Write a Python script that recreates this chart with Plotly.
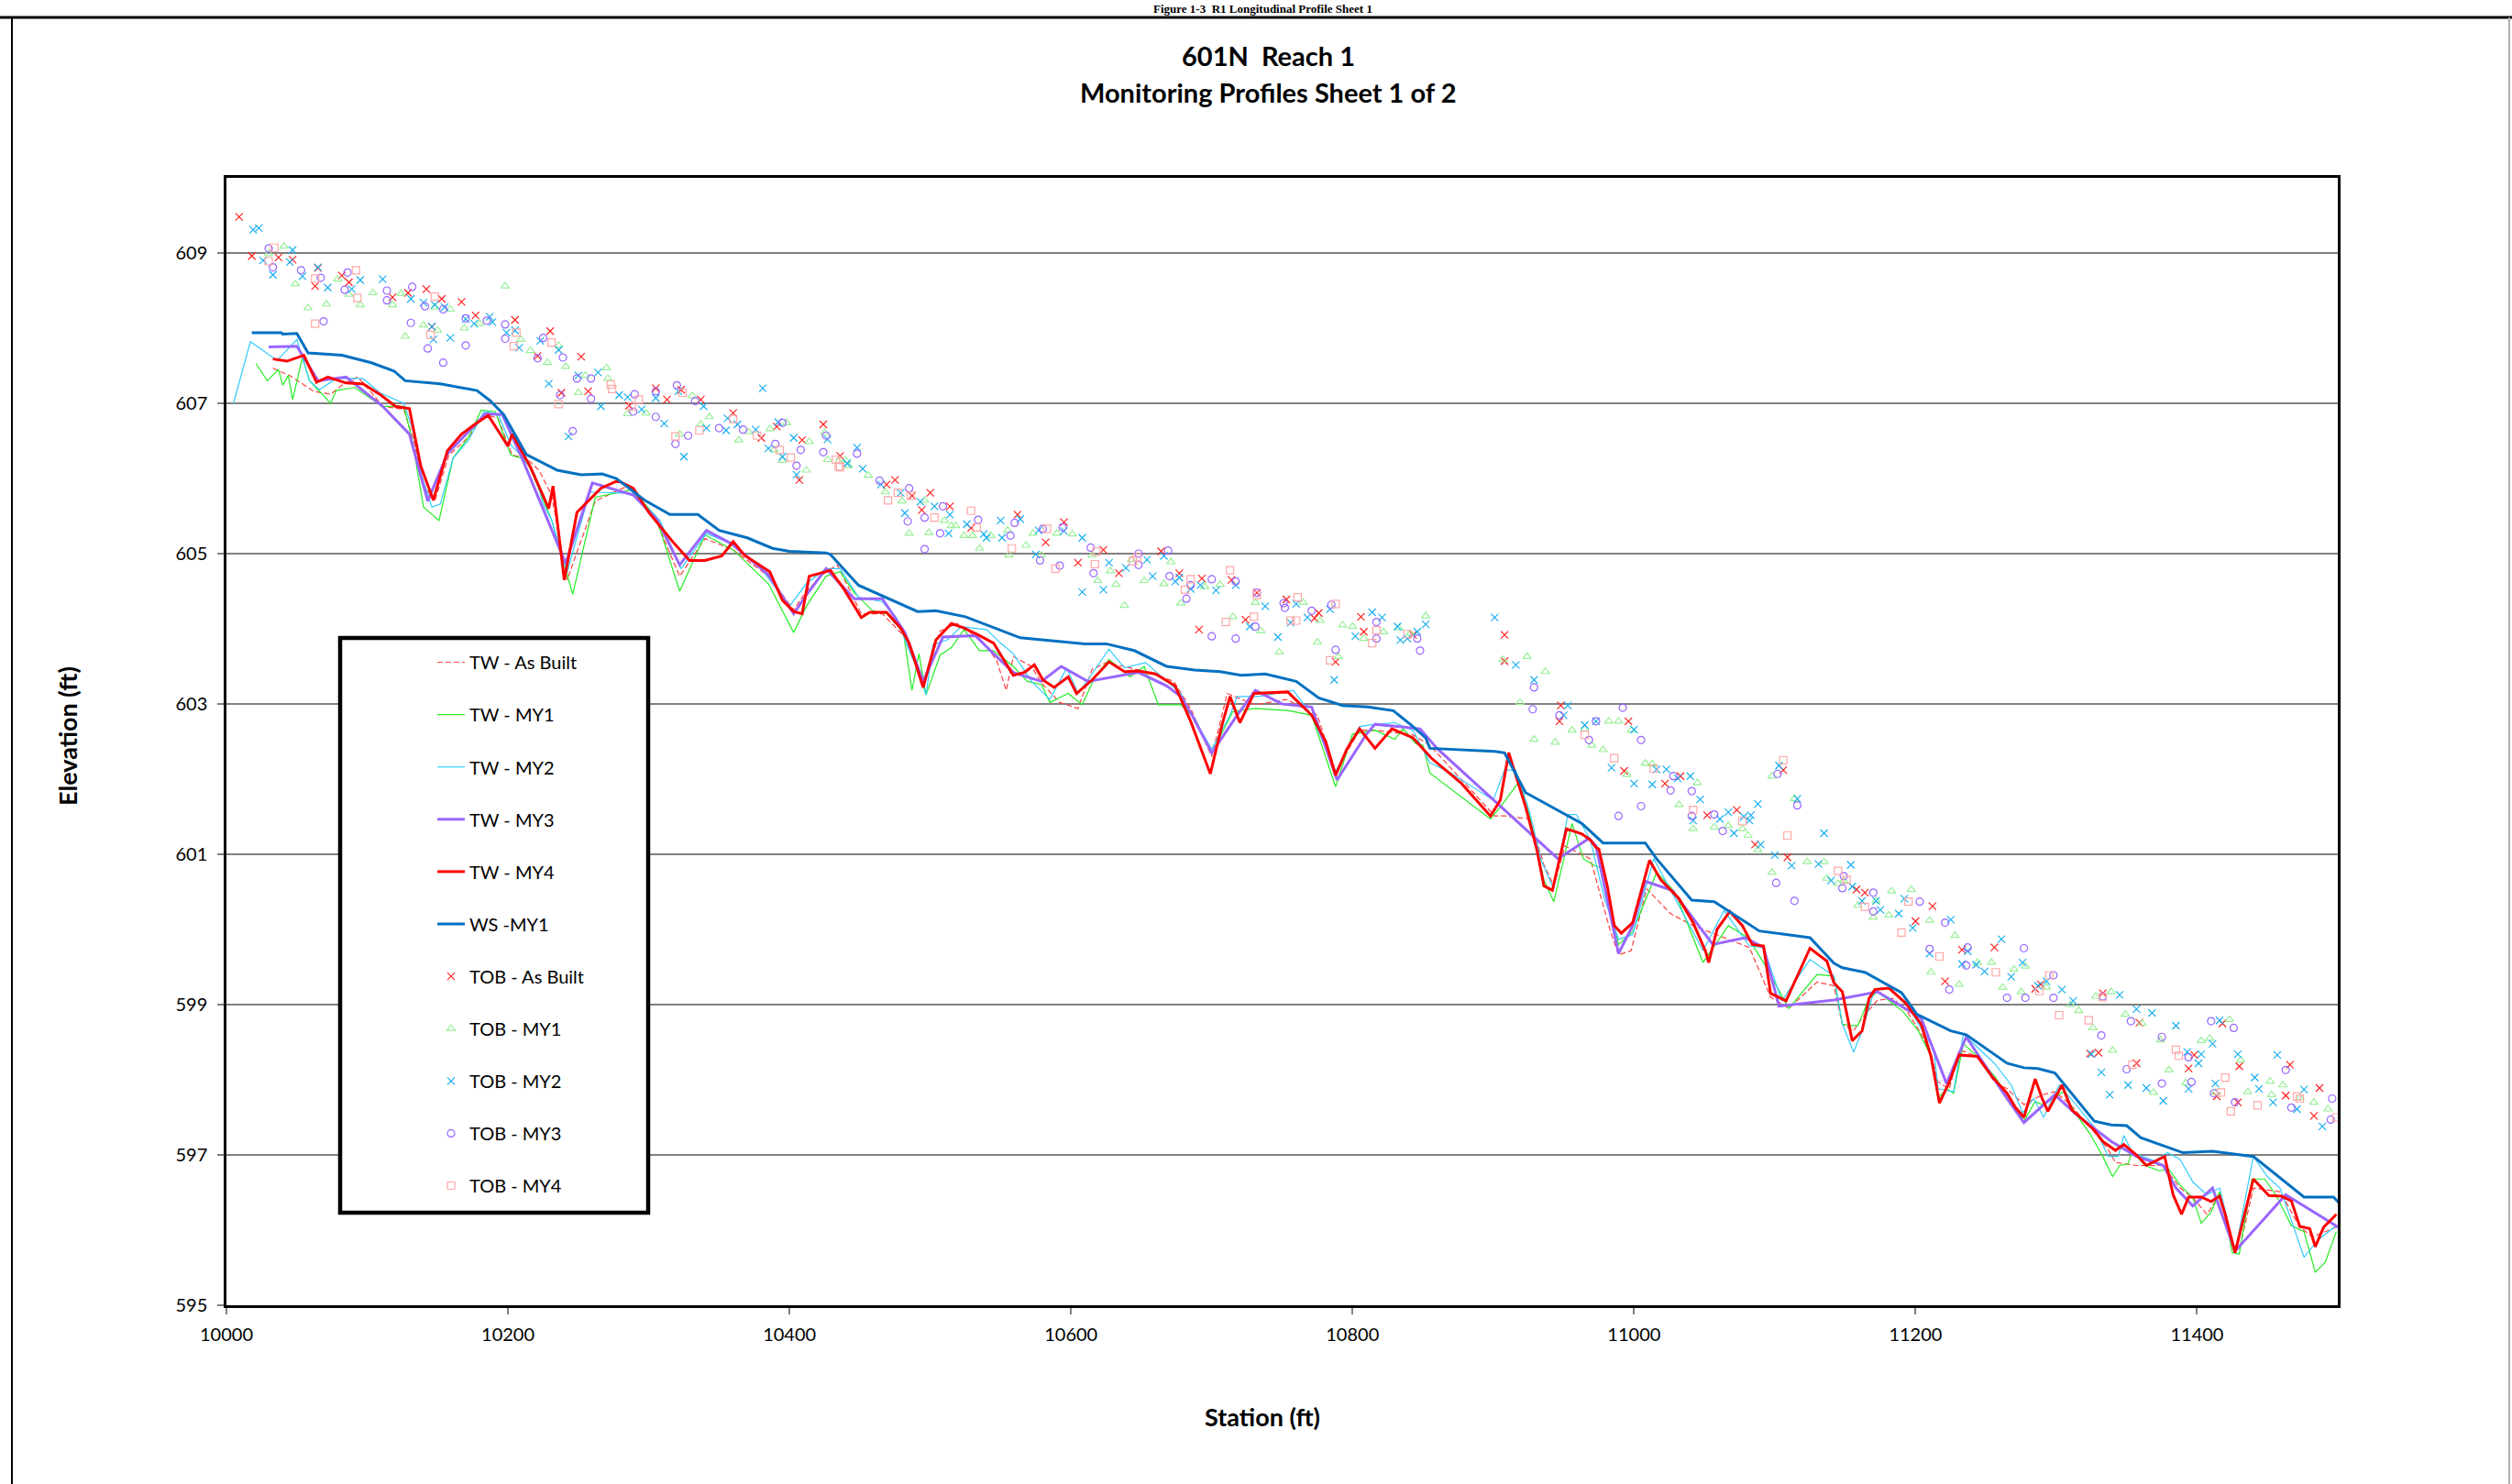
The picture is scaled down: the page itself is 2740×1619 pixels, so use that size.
import plotly.graph_objects as go

# ---------------- data ----------------
x_ticks = [10000, 10200, 10400, 10600, 10800, 11000, 11200, 11400]
y_ticks = [595, 597, 599, 601, 603, 605, 607, 609]

tw_ab_sta = [10033, 10037, 10045, 10056, 10062, 10074, 10082, 10093, 10097, 10111, 10126, 10133, 10140, 10148, 10158, 10172, 10183, 10193, 10203, 10213, 10222, 10231, 10242, 10262, 10285, 10305, 10322, 10340, 10360, 10385, 10403, 10412, 10426, 10434, 10446, 10451, 10466, 10482, 10495, 10507, 10519, 10535, 10547, 10554, 10559, 10572, 10579, 10592, 10605, 10615, 10625, 10642, 10658, 10673, 10685, 10700, 10711, 10716, 10731, 10753, 10775, 10788, 10805, 10816, 10843, 10855, 10901, 10908, 10926, 10936, 10943, 10951, 10969, 10983, 10989, 10998, 11009, 11026, 11042, 11064, 11082, 11097, 11110, 11130, 11142, 11148, 11156, 11162, 11173, 11184, 11194, 11204, 11211, 11216, 11224, 11231, 11244, 11256, 11265, 11277, 11290, 11299, 11310, 11324, 11337, 11342, 11357, 11376, 11388, 11397, 11407, 11416, 11425, 11430, 11440, 11459, 11473, 11482, 11499]
tw_ab_elev = [607.47, 607.43, 607.37, 607.24, 607.16, 607.12, 607.24, 607.35, 607.28, 606.96, 606.92, 606.51, 605.90, 605.70, 606.31, 606.55, 606.86, 606.80, 606.31, 606.27, 606.11, 605.78, 604.65, 605.70, 605.90, 605.45, 604.70, 605.20, 605.05, 604.70, 604.25, 604.50, 604.76, 604.85, 604.40, 604.20, 604.20, 603.89, 603.26, 603.97, 604.07, 603.87, 603.59, 603.18, 603.63, 603.50, 603.28, 603.02, 602.94, 603.46, 603.55, 603.48, 603.40, 603.30, 602.94, 602.30, 603.14, 603.10, 602.99, 603.06, 602.85, 602.10, 602.65, 602.65, 602.59, 602.45, 601.51, 601.51, 601.47, 600.86, 600.58, 601.11, 600.94, 599.99, 599.66, 599.72, 600.54, 600.21, 600.05, 599.89, 599.76, 599.10, 598.95, 599.30, 599.25, 598.74, 598.65, 598.82, 599.06, 599.08, 598.91, 598.61, 598.35, 597.97, 597.88, 598.40, 598.31, 597.97, 597.88, 597.67, 597.80, 597.84, 597.67, 597.37, 597.07, 596.90, 596.86, 596.86, 596.56, 596.43, 596.21, 596.47, 595.83, 595.74, 596.56, 596.51, 596.04, 595.91, 596.04]

tw_my1_sta = [10021, 10029, 10037, 10040, 10044, 10047, 10054, 10059, 10074, 10078, 10091, 10111, 10126, 10132, 10140, 10151, 10161, 10172, 10181, 10191, 10202, 10213, 10222, 10231, 10246, 10262, 10288, 10305, 10322, 10340, 10360, 10385, 10403, 10412, 10426, 10436, 10446, 10459, 10469, 10481, 10487, 10492, 10497, 10507, 10515, 10524, 10535, 10545, 10559, 10569, 10579, 10585, 10598, 10608, 10617, 10627, 10642, 10652, 10662, 10678, 10688, 10700, 10715, 10731, 10755, 10771, 10788, 10800, 10816, 10830, 10836, 10845, 10850, 10855, 10898, 10905, 10919, 10926, 10936, 10943, 10956, 10964, 10971, 10976, 10989, 10999, 11006, 11016, 11029, 11049, 11067, 11081, 11092, 11110, 11130, 11142, 11148, 11153, 11159, 11167, 11173, 11191, 11202, 11211, 11216, 11222, 11227, 11234, 11244, 11256, 11271, 11277, 11285, 11290, 11296, 11305, 11314, 11324, 11333, 11340, 11345, 11351, 11354, 11363, 11373, 11380, 11388, 11397, 11403, 11410, 11416, 11420, 11425, 11430, 11439, 11448, 11456, 11467, 11476, 11484, 11491, 11499]
tw_my1_elev = [607.53, 607.30, 607.45, 607.24, 607.37, 607.05, 607.61, 607.30, 607.00, 607.17, 607.21, 606.96, 606.96, 606.51, 605.62, 605.44, 606.27, 606.55, 606.91, 606.89, 606.31, 606.25, 605.86, 605.45, 604.46, 605.75, 605.85, 605.50, 604.50, 605.25, 605.05, 604.60, 603.95, 604.30, 604.70, 604.76, 604.48, 604.24, 604.20, 603.95, 603.18, 603.67, 603.12, 603.65, 603.75, 603.99, 603.71, 603.71, 603.50, 603.30, 603.26, 603.02, 603.14, 602.99, 603.36, 603.59, 603.36, 603.50, 602.99, 602.99, 602.81, 602.35, 602.90, 602.94, 602.91, 602.85, 601.90, 602.60, 602.65, 602.53, 602.67, 602.47, 602.45, 602.08, 601.47, 601.63, 601.98, 601.49, 600.66, 600.37, 601.41, 600.94, 600.86, 600.82, 599.80, 599.97, 600.29, 600.76, 600.50, 599.56, 600.05, 599.89, 599.56, 598.95, 599.40, 599.38, 598.74, 598.72, 598.72, 599.08, 599.17, 598.91, 598.65, 598.31, 597.75, 597.88, 597.82, 598.48, 598.31, 598.05, 597.63, 597.45, 597.71, 597.67, 597.73, 597.84, 597.54, 597.28, 596.98, 596.71, 596.86, 596.88, 597.05, 596.86, 596.79, 596.81, 596.60, 596.43, 596.09, 596.24, 596.51, 596.21, 595.70, 595.68, 596.68, 596.68, 596.47, 596.06, 595.98, 595.44, 595.57, 595.98]

tw_my2_sta = [10005, 10017, 10036, 10050, 10059, 10066, 10078, 10097, 10109, 10126, 10132, 10139, 10146, 10152, 10161, 10172, 10183, 10193, 10202, 10209, 10219, 10225, 10231, 10242, 10258, 10289, 10308, 10323, 10341, 10359, 10380, 10400, 10412, 10426, 10436, 10449, 10466, 10476, 10485, 10491, 10497, 10502, 10512, 10522, 10540, 10550, 10559, 10572, 10585, 10597, 10605, 10612, 10627, 10638, 10653, 10668, 10678, 10686, 10700, 10713, 10718, 10733, 10758, 10771, 10788, 10805, 10816, 10830, 10843, 10855, 10870, 10900, 10908, 10916, 10926, 10934, 10943, 10953, 10959, 10969, 10979, 10989, 10999, 11014, 11022, 11049, 11064, 11082, 11092, 11105, 11125, 11142, 11148, 11156, 11162, 11171, 11182, 11194, 11213, 11216, 11227, 11234, 11256, 11268, 11276, 11284, 11291, 11302, 11314, 11327, 11337, 11344, 11348, 11354, 11370, 11379, 11388, 11397, 11407, 11416, 11420, 11427, 11440, 11450, 11459, 11476, 11486, 11499]
tw_my2_elev = [607.00, 607.82, 607.57, 607.85, 607.30, 607.18, 607.33, 607.33, 607.14, 607.00, 606.67, 606.02, 605.62, 605.66, 606.27, 606.51, 606.89, 606.86, 606.45, 606.31, 606.06, 605.66, 605.45, 604.75, 605.82, 605.80, 605.44, 604.80, 605.27, 605.13, 604.80, 604.30, 604.60, 604.80, 604.80, 604.42, 604.36, 604.15, 603.71, 603.46, 603.12, 603.79, 603.85, 604.03, 603.99, 603.81, 603.67, 603.30, 603.06, 603.48, 603.14, 603.32, 603.73, 603.48, 603.55, 603.30, 603.14, 602.85, 602.40, 602.85, 603.10, 603.10, 603.18, 602.85, 602.10, 602.70, 602.73, 602.75, 602.65, 602.22, 602.08, 601.72, 602.12, 602.12, 601.55, 600.92, 600.54, 601.53, 601.53, 601.19, 600.41, 599.87, 599.93, 600.94, 600.66, 599.72, 600.25, 599.78, 599.76, 599.05, 599.60, 599.38, 598.74, 598.37, 598.65, 599.21, 599.23, 599.00, 598.40, 597.88, 597.84, 598.61, 598.22, 597.93, 597.56, 597.75, 597.50, 597.93, 597.67, 597.37, 596.98, 596.98, 597.26, 597.03, 596.92, 597.03, 596.94, 596.64, 596.47, 596.56, 596.26, 595.70, 596.98, 596.71, 596.56, 595.64, 595.87, 596.06]

tw_my3_sta = [10030, 10050, 10065, 10085, 10111, 10130, 10143, 10157, 10184, 10196, 10210, 10241, 10260, 10289, 10306, 10322, 10341, 10359, 10385, 10403, 10412, 10426, 10446, 10466, 10482, 10495, 10509, 10532, 10545, 10559, 10579, 10593, 10612, 10648, 10668, 10678, 10686, 10700, 10718, 10731, 10750, 10771, 10789, 10810, 10816, 10848, 10860, 10946, 10968, 10973, 10989, 10999, 11008, 11027, 11056, 11079, 11092, 11103, 11142, 11173, 11204, 11211, 11222, 11236, 11265, 11277, 11299, 11314, 11339, 11357, 11376, 11385, 11397, 11411, 11427, 11463, 11502]
tw_my3_elev = [607.75, 607.76, 607.30, 607.35, 606.96, 606.59, 605.70, 606.33, 606.86, 606.85, 606.27, 604.87, 605.94, 605.78, 605.45, 604.85, 605.31, 605.13, 604.72, 604.20, 604.45, 604.80, 604.40, 604.40, 603.95, 603.30, 603.89, 603.91, 603.67, 603.42, 603.30, 603.50, 603.30, 603.42, 603.24, 603.10, 602.85, 602.35, 602.85, 603.18, 603.00, 602.96, 601.99, 602.60, 602.73, 602.67, 602.41, 600.94, 601.21, 601.11, 599.68, 600.05, 600.64, 600.52, 599.80, 599.89, 599.76, 598.98, 599.06, 599.17, 598.82, 598.48, 597.95, 598.57, 597.75, 597.43, 597.80, 597.54, 597.18, 596.98, 596.86, 596.56, 596.32, 596.56, 595.72, 596.47, 596.02]

tw_my4_sta = [10033, 10043, 10055, 10064, 10072, 10085, 10097, 10109, 10120, 10130, 10138, 10147, 10157, 10167, 10175, 10186, 10200, 10203, 10216, 10229, 10232, 10240, 10249, 10266, 10278, 10289, 10300, 10317, 10329, 10340, 10352, 10360, 10368, 10386, 10395, 10403, 10409, 10414, 10426, 10429, 10439, 10451, 10457, 10469, 10479, 10485, 10495, 10504, 10515, 10524, 10535, 10545, 10559, 10567, 10574, 10580, 10588, 10598, 10604, 10615, 10627, 10638, 10648, 10660, 10674, 10685, 10699, 10707, 10713, 10720, 10730, 10754, 10771, 10781, 10788, 10796, 10805, 10816, 10828, 10843, 10856, 10877, 10898, 10905, 10911, 10923, 10931, 10936, 10942, 10952, 10963, 10969, 10973, 10975, 10981, 10986, 10991, 10999, 11011, 11019, 11032, 11042, 11051, 11053, 11059, 11068, 11077, 11084, 11092, 11097, 11108, 11116, 11125, 11137, 11142, 11148, 11155, 11162, 11167, 11171, 11181, 11193, 11204, 11211, 11217, 11224, 11231, 11244, 11254, 11265, 11271, 11277, 11285, 11290, 11294, 11304, 11311, 11317, 11327, 11333, 11342, 11348, 11357, 11364, 11371, 11377, 11383, 11389, 11394, 11403, 11410, 11416, 11420, 11427, 11440, 11451, 11460, 11467, 11473, 11480, 11484, 11490, 11499]
tw_my4_elev = [607.59, 607.56, 607.64, 607.28, 607.35, 607.27, 607.26, 607.12, 606.96, 606.93, 606.17, 605.71, 606.37, 606.59, 606.70, 606.84, 606.43, 606.59, 606.15, 605.60, 605.90, 604.65, 605.55, 605.87, 605.97, 605.87, 605.55, 605.16, 604.91, 604.91, 604.97, 605.16, 604.98, 604.76, 604.38, 604.23, 604.20, 604.70, 604.76, 604.78, 604.52, 604.15, 604.22, 604.22, 604.01, 603.81, 603.22, 603.85, 604.07, 604.01, 603.91, 603.81, 603.38, 603.42, 603.52, 603.32, 603.22, 603.36, 603.14, 603.32, 603.56, 603.43, 603.44, 603.40, 603.24, 602.77, 602.07, 602.70, 603.10, 602.75, 603.14, 603.16, 602.85, 602.50, 602.05, 602.40, 602.67, 602.41, 602.67, 602.55, 602.28, 601.95, 601.51, 601.72, 602.35, 601.63, 601.06, 600.58, 600.52, 601.34, 601.27, 601.19, 601.09, 601.07, 600.58, 600.05, 599.95, 600.09, 600.92, 600.66, 600.41, 600.09, 599.70, 599.56, 600.00, 600.24, 600.05, 599.80, 599.78, 599.15, 599.05, 599.37, 599.75, 599.58, 599.29, 599.17, 598.52, 598.65, 599.08, 599.20, 599.22, 599.02, 598.74, 598.31, 597.69, 597.97, 598.33, 598.31, 598.05, 597.82, 597.63, 597.50, 598.01, 597.75, 597.58, 597.93, 597.60, 597.50, 597.33, 597.18, 597.06, 597.14, 597.00, 596.86, 596.92, 596.98, 596.47, 596.21, 596.44, 596.44, 596.38, 596.45, 596.21, 595.70, 596.68, 596.46, 596.45, 596.39, 596.05, 596.02, 595.78, 596.04, 596.21]

ws_my1_sta = [10018, 10039, 10040, 10050, 10058, 10082, 10103, 10119, 10127, 10152, 10178, 10187, 10197, 10213, 10235, 10252, 10267, 10277, 10298, 10315, 10335, 10350, 10370, 10388, 10400, 10426, 10429, 10449, 10491, 10504, 10525, 10564, 10610, 10625, 10645, 10668, 10688, 10706, 10721, 10738, 10760, 10776, 10793, 10811, 10829, 10841, 10852, 10855, 10901, 10908, 10923, 10963, 10978, 11008, 11016, 11041, 11057, 11089, 11125, 11142, 11148, 11164, 11190, 11201, 11225, 11236, 11265, 11277, 11287, 11299, 11327, 11339, 11350, 11360, 11390, 11411, 11440, 11476, 11497, 11502]
ws_my1_elev = [607.94, 607.94, 607.92, 607.93, 607.67, 607.64, 607.54, 607.43, 607.30, 607.26, 607.17, 607.04, 606.85, 606.32, 606.11, 606.05, 606.06, 606.00, 605.70, 605.52, 605.52, 605.31, 605.21, 605.07, 605.03, 605.01, 604.99, 604.58, 604.23, 604.24, 604.16, 603.88, 603.80, 603.80, 603.71, 603.50, 603.45, 603.43, 603.38, 603.40, 603.30, 603.08, 602.98, 602.96, 602.91, 602.73, 602.55, 602.41, 602.37, 602.35, 601.82, 601.41, 601.15, 601.15, 600.94, 600.39, 600.37, 599.98, 599.89, 599.55, 599.49, 599.43, 599.16, 598.87, 598.65, 598.60, 598.22, 598.16, 598.15, 598.09, 597.45, 597.40, 597.39, 597.23, 597.03, 597.05, 596.98, 596.44, 596.44, 596.34]

tob_ab_sta = [10009, 10018, 10037, 10047, 10065, 10063, 10082, 10087, 10118, 10129, 10142, 10153, 10167, 10177, 10205, 10230, 10252, 10238, 10257, 10305, 10313, 10323, 10337, 10360, 10380, 10391, 10409, 10407, 10424, 10436, 10286, 10221, 10146, 10469, 10475, 10487, 10500, 10494, 10514, 10529, 10562, 10582, 10595, 10605, 10623, 10634, 10664, 10677, 10691, 10693, 10714, 10724, 10732, 10753, 10773, 10776, 10788, 10806, 10808, 10843, 10908, 10908, 10948, 10996, 10947, 10993, 11022, 11033, 11052, 11073, 11086, 11109, 11106, 11158, 11164, 11200, 11212, 11221, 11233, 11256, 11285, 11289, 11333, 11330, 11324, 11359, 11357, 11394, 11398, 11418, 11414, 11429, 11430, 11463, 11466, 11483, 11487]
tob_ab_elev = [609.48, 608.96, 608.94, 608.91, 608.80, 608.56, 608.70, 608.61, 608.41, 608.47, 608.52, 608.39, 608.35, 608.17, 608.11, 607.96, 607.62, 607.14, 607.16, 607.20, 607.05, 607.18, 607.05, 606.87, 606.54, 606.69, 606.51, 605.98, 606.72, 606.30, 606.97, 607.63, 608.02, 605.92, 605.98, 605.77, 605.81, 605.58, 605.63, 605.34, 605.52, 605.15, 605.42, 604.88, 605.05, 604.74, 605.03, 604.74, 603.99, 604.67, 604.65, 604.12, 604.48, 604.39, 604.14, 604.21, 603.56, 604.16, 603.96, 603.92, 603.92, 603.57, 602.98, 602.77, 602.77, 602.11, 601.94, 602.04, 601.52, 601.59, 601.13, 600.96, 602.12, 600.53, 600.49, 600.11, 600.31, 599.31, 599.73, 599.76, 599.21, 599.27, 599.15, 598.36, 598.35, 598.76, 598.22, 598.15, 598.33, 598.75, 597.78, 597.70, 598.18, 597.79, 598.20, 597.52, 597.89]

tob_my1_sta = [10030, 10041, 10049, 10058, 10071, 10079, 10087, 10095, 10104, 10118, 10124, 10127, 10140, 10150, 10148, 10159, 10169, 10180, 10198, 10209, 10216, 10228, 10236, 10241, 10250, 10255, 10270, 10271, 10285, 10298, 10322, 10331, 10337, 10343, 10364, 10371, 10386, 10389, 10395, 10398, 10412, 10414, 10425, 10435, 10440, 10427, 10442, 10456, 10468, 10480, 10485, 10496, 10499, 10510, 10515, 10518, 10524, 10530, 10535, 10543, 10555, 10556, 10568, 10573, 10579, 10590, 10601, 10615, 10619, 10628, 10632, 10638, 10643, 10652, 10666, 10671, 10678, 10695, 10706, 10715, 10731, 10735, 10748, 10765, 10775, 10777, 10790, 10793, 10800, 10808, 10822, 10833, 10841, 10852, 10907, 10924, 10937, 10919, 10929, 10944, 10956, 10965, 10970, 10978, 10982, 10989, 10998, 11008, 11013, 10995, 11032, 11042, 11045, 11057, 11067, 11077, 11081, 11088, 11098, 11098, 11114, 11123, 11135, 11137, 11145, 11149, 11159, 11170, 11172, 11181, 11183, 11197, 11210, 11211, 11228, 11231, 11244, 11254, 11262, 11270, 11275, 11278, 11293, 11310, 11316, 11326, 11328, 11340, 11339, 11349, 11361, 11369, 11380, 11392, 11374, 11403, 11409, 11413, 11423, 11431, 11436, 11452, 11453, 11461, 11473, 11483, 11493]
tob_my1_elev = [608.99, 609.09, 608.59, 608.27, 608.32, 608.65, 608.45, 608.31, 608.47, 608.31, 608.46, 607.89, 608.04, 607.97, 608.28, 608.25, 608.00, 608.06, 608.56, 607.85, 607.70, 607.54, 607.77, 607.49, 607.14, 607.37, 607.47, 607.33, 606.86, 606.87, 606.59, 607.10, 606.72, 606.82, 606.51, 606.62, 606.66, 606.38, 606.24, 606.74, 606.11, 606.49, 606.61, 606.23, 606.24, 606.25, 606.17, 606.04, 605.82, 605.70, 605.27, 605.71, 605.28, 605.44, 605.37, 605.37, 605.24, 605.24, 605.07, 605.24, 605.31, 604.98, 605.11, 605.27, 604.98, 605.27, 605.26, 604.98, 604.64, 604.77, 604.59, 604.31, 604.92, 604.64, 604.60, 604.89, 604.34, 604.56, 604.59, 604.16, 604.35, 603.97, 603.69, 604.35, 603.82, 604.11, 603.63, 604.05, 604.03, 603.87, 603.96, 604.01, 603.94, 604.17, 603.59, 603.63, 603.43, 603.02, 602.53, 602.49, 602.65, 602.67, 602.45, 602.39, 602.77, 602.77, 602.65, 602.21, 602.20, 602.06, 601.66, 601.34, 601.95, 601.36, 601.38, 601.34, 601.25, 601.06, 602.04, 600.76, 601.74, 600.90, 600.90, 600.68, 600.61, 600.65, 600.32, 600.16, 600.38, 600.19, 600.51, 600.53, 600.12, 599.43, 599.92, 599.27, 599.56, 599.56, 599.23, 599.47, 599.17, 599.51, 599.23, 599.00, 598.92, 598.69, 599.11, 598.39, 599.17, 598.87, 598.75, 597.83, 598.13, 597.96, 598.53, 598.52, 598.55, 597.83, 598.80, 598.26, 597.84, 597.98, 597.80, 597.93, 597.76, 597.70, 597.61]

tob_my2_sta = [10019, 10023, 10026, 10033, 10045, 10047, 10054, 10065, 10072, 10089, 10095, 10111, 10131, 10140, 10148, 10155, 10146, 10147, 10159, 10170, 10176, 10187, 10189, 10199, 10205, 10208, 10223, 10236, 10229, 10243, 10250, 10264, 10266, 10279, 10285, 10295, 10305, 10311, 10321, 10325, 10339, 10341, 10356, 10363, 10355, 10381, 10376, 10385, 10392, 10395, 10403, 10405, 10427, 10441, 10448, 10452, 10441, 10465, 10479, 10493, 10482, 10503, 10514, 10513, 10526, 10538, 10540, 10551, 10550, 10564, 10577, 10575, 10595, 10608, 10608, 10623, 10627, 10639, 10654, 10658, 10666, 10677, 10674, 10685, 10692, 10703, 10717, 10738, 10727, 10747, 10756, 10760, 10768, 10787, 10784, 10802, 10814, 10821, 10832, 10834, 10839, 10846, 10852, 10901, 10916, 10929, 10953, 10950, 10965, 10973, 11000, 10984, 11000, 11016, 11023, 11013, 11031, 11040, 11047, 11042, 11067, 11071, 11061, 11083, 11078, 11082, 11088, 11090, 11100, 11112, 11103, 11116, 11131, 11135, 11140, 11154, 11155, 11162, 11172, 11175, 11188, 11192, 11198, 11210, 11225, 11233, 11237, 11243, 11249, 11261, 11268, 11276, 11287, 11293, 11304, 11312, 11325, 11332, 11338, 11345, 11357, 11351, 11368, 11364, 11376, 11385, 11393, 11394, 11401, 11403, 11411, 11413, 11416, 11429, 11441, 11444, 11454, 11457, 11471, 11476, 11489]
tob_my2_elev = [609.31, 609.33, 608.90, 608.71, 608.88, 609.04, 608.69, 608.81, 608.54, 608.52, 608.64, 608.65, 608.39, 608.34, 608.31, 608.28, 608.02, 607.85, 607.87, 608.12, 608.06, 608.15, 608.08, 607.94, 607.97, 607.74, 607.83, 607.71, 607.26, 606.56, 607.37, 607.41, 606.96, 607.11, 607.08, 606.92, 607.07, 606.73, 607.16, 606.29, 606.96, 606.67, 606.80, 606.72, 606.64, 607.20, 606.65, 606.40, 606.75, 606.29, 606.54, 606.05, 606.52, 606.20, 606.41, 606.13, 606.20, 605.92, 605.81, 605.69, 605.54, 605.63, 605.52, 605.27, 605.39, 605.26, 605.21, 605.21, 605.44, 605.46, 605.31, 604.99, 605.30, 605.21, 604.49, 604.52, 604.88, 604.81, 604.92, 604.70, 604.97, 604.68, 604.63, 604.53, 604.58, 604.51, 604.58, 604.30, 604.03, 603.89, 604.08, 604.33, 604.15, 603.32, 604.26, 603.90, 604.22, 604.15, 604.03, 603.85, 603.87, 603.96, 604.06, 604.15, 603.52, 603.32, 602.98, 602.85, 602.72, 602.77, 602.66, 602.15, 601.94, 602.13, 602.13, 601.93, 602.01, 602.04, 601.73, 601.45, 601.56, 601.28, 601.47, 601.52, 601.50, 601.45, 601.67, 601.13, 600.99, 600.85, 602.18, 601.74, 600.87, 601.28, 600.65, 600.86, 600.57, 600.38, 600.38, 600.26, 600.21, 600.41, 600.02, 599.68, 600.13, 599.54, 599.71, 599.53, 599.44, 599.87, 599.37, 599.56, 599.25, 599.31, 599.20, 599.05, 598.34, 598.10, 597.80, 599.13, 598.94, 597.93, 598.89, 597.89, 597.72, 598.72, 598.37, 597.88, 598.22, 598.34, 598.48, 597.95, 598.79, 598.34, 598.03, 597.88, 597.70, 598.33, 597.61, 597.87, 597.38]

tob_my3_sta = [10030, 10033, 10053, 10067, 10069, 10084, 10086, 10114, 10114, 10132, 10131, 10141, 10143, 10154, 10154, 10170, 10170, 10185, 10198, 10198, 10225, 10221, 10239, 10237, 10246, 10249, 10259, 10259, 10290, 10289, 10305, 10305, 10320, 10319, 10328, 10333, 10350, 10367, 10390, 10395, 10408, 10405, 10424, 10426, 10448, 10464, 10485, 10484, 10496, 10496, 10507, 10509, 10534, 10560, 10557, 10578, 10580, 10594, 10592, 10614, 10616, 10648, 10648, 10669, 10670, 10685, 10682, 10700, 10700, 10717, 10717, 10732, 10731, 10751, 10752, 10771, 10785, 10788, 10817, 10817, 10846, 10848, 10929, 10928, 10947, 10968, 10973, 10992, 10989, 11005, 11005, 11026, 11028, 11041, 11041, 11057, 11063, 11101, 11102, 11114, 11116, 11149, 11148, 11170, 11170, 11203, 11221, 11224, 11237, 11236, 11210, 11277, 11265, 11278, 11298, 11298, 11332, 11333, 11353, 11350, 11375, 11375, 11394, 11396, 11410, 11412, 11426, 11427, 11463, 11467, 11495, 11496]
tob_my3_elev = [609.06, 608.81, 608.77, 608.67, 608.09, 608.51, 608.74, 608.50, 608.37, 608.55, 608.07, 608.29, 607.73, 608.25, 607.54, 608.13, 607.77, 608.10, 608.05, 607.86, 607.87, 607.60, 607.61, 607.11, 606.63, 607.33, 607.33, 607.06, 607.12, 606.89, 607.16, 606.82, 607.24, 606.46, 606.57, 607.03, 606.67, 606.65, 606.46, 606.74, 606.38, 606.17, 606.35, 606.57, 606.33, 605.97, 605.87, 605.43, 605.48, 605.06, 605.27, 605.63, 605.45, 605.41, 605.24, 604.91, 605.33, 605.35, 604.84, 605.08, 604.74, 605.00, 604.85, 605.04, 604.70, 604.58, 604.40, 604.66, 603.90, 604.63, 603.87, 604.48, 604.03, 604.34, 604.28, 604.24, 604.32, 603.72, 604.09, 603.87, 603.87, 603.71, 603.22, 602.93, 602.85, 602.52, 602.77, 602.95, 601.51, 602.52, 601.64, 601.85, 602.04, 601.84, 601.51, 601.53, 601.31, 600.62, 602.07, 600.38, 601.65, 600.71, 600.55, 600.49, 600.24, 600.37, 600.09, 599.20, 599.76, 599.52, 599.74, 599.75, 599.09, 599.09, 599.09, 599.39, 598.59, 599.11, 598.78, 598.14, 598.57, 597.95, 598.30, 597.97, 598.78, 597.82, 598.69, 597.70, 598.13, 597.63, 597.47, 597.75]

tob_my4_sta = [10030, 10034, 10063, 10063, 10092, 10093, 10148, 10145, 10206, 10204, 10231, 10236, 10273, 10274, 10293, 10288, 10319, 10324, 10336, 10360, 10377, 10393, 10401, 10433, 10436, 10435, 10470, 10477, 10486, 10503, 10529, 10533, 10558, 10583, 10589, 10617, 10618, 10644, 10647, 10681, 10685, 10710, 10713, 10730, 10732, 10756, 10760, 10761, 10788, 10784, 10814, 10817, 10839, 10965, 10986, 11014, 11042, 11077, 11106, 11109, 11145, 11151, 11164, 11190, 11195, 11217, 11257, 11295, 11288, 11302, 11323, 11333, 11354, 11385, 11387, 11420, 11417, 11424, 11443, 11471, 11473, 11499]
tob_my4_elev = [608.89, 609.07, 608.66, 608.06, 608.77, 608.40, 608.42, 607.91, 607.94, 607.76, 607.81, 606.99, 607.25, 607.19, 607.05, 606.96, 606.56, 607.14, 606.64, 606.79, 606.57, 606.38, 606.28, 606.25, 606.15, 606.16, 605.71, 605.81, 605.77, 605.48, 605.57, 605.35, 605.07, 605.33, 604.80, 604.86, 605.03, 604.90, 604.95, 604.52, 604.66, 604.09, 604.78, 604.16, 604.45, 604.11, 604.11, 604.42, 604.33, 603.58, 603.81, 603.98, 603.93, 602.59, 602.28, 602.14, 601.59, 601.44, 602.25, 601.25, 600.78, 600.66, 600.30, 599.96, 600.37, 599.64, 599.43, 599.39, 599.18, 598.86, 598.79, 599.10, 598.20, 598.40, 598.32, 598.03, 597.83, 597.58, 597.66, 597.78, 597.75, 597.50]

# ---------------- page geometry (pixels) ----------------
W, H = 2740, 1619
PL, PR, PT, PB = 247, 2550, 194, 1424
pw, ph = PR - PL, PB - PT


def px(x):
    return (x - PL) / pw


def py(y):
    return (PB - y) / ph


FONT = "Lato"

fig = go.Figure()

line_specs = [
    ("TW - As Built", tw_ab_sta, tw_ab_elev, dict(color="#FF4040", width=1.2, dash="6px,3px")),
    ("TW - MY1", tw_my1_sta, tw_my1_elev, dict(color="#22EE22", width=1.2)),
    ("TW - MY2", tw_my2_sta, tw_my2_elev, dict(color="#33CCFF", width=1.2)),
    ("TW - MY3", tw_my3_sta, tw_my3_elev, dict(color="#9966FF", width=3)),
    ("TW - MY4", tw_my4_sta, tw_my4_elev, dict(color="#FF0000", width=3)),
    ("WS -MY1", ws_my1_sta, ws_my1_elev, dict(color="#0070C0", width=3)),
]
for i, (name, xs, ys, ln) in enumerate(line_specs):
    fig.add_trace(go.Scatter(x=xs, y=ys, mode="lines", name=name, line=ln,
                             legendgroup=f"g{i}"))

marker_specs = [
    ("TOB - As Built", tob_ab_sta, tob_ab_elev, "x-thin", "#FF2020"),
    ("TOB - MY1", tob_my1_sta, tob_my1_elev, "triangle-up-open", "#99F099"),
    ("TOB - MY2", tob_my2_sta, tob_my2_elev, "x-thin", "#1AAFF0"),
    ("TOB - MY3", tob_my3_sta, tob_my3_elev, "circle-open", "#9966FF"),
    ("TOB - MY4", tob_my4_sta, tob_my4_elev, "square-open", "#FFA8A8"),
]
for j, (name, xs, ys, sym, col) in enumerate(marker_specs):
    fig.add_trace(go.Scatter(x=xs, y=ys, mode="markers", name=name,
                             marker=dict(symbol=sym, size=8, color=col,
                                         line=dict(color=col, width=1.2)),
                             legendgroup=f"m{j}"))

TOPLINE = 19
shapes = [
    # page frame
    dict(type="line", xref="paper", yref="paper", x0=px(0), x1=px(W), y0=py(TOPLINE), y1=py(TOPLINE),
         line=dict(color="#000000", width=3)),
    dict(type="line", xref="paper", yref="paper", x0=px(13), x1=px(13), y0=py(TOPLINE), y1=py(H + 5),
         line=dict(color="#000000", width=2)),
    dict(type="line", xref="paper", yref="paper", x0=px(2737), x1=px(2737), y0=py(TOPLINE), y1=py(H + 5),
         line=dict(color="#B0B0B0", width=2)),
    # legend box
    dict(type="rect", xref="paper", yref="paper", x0=px(371), x1=px(707), y0=py(1323), y1=py(696),
         line=dict(color="#000000", width=4.5), fillcolor="#FFFFFF", layer="above"),
]

annotations = [
    dict(text="Figure 1-3  R1 Longitudinal Profile Sheet 1", x=px(1377), y=py(9), xref="paper", yref="paper",
         showarrow=False, xanchor="center", yanchor="middle",
         font=dict(family="Liberation Serif", size=13, color="#000000", weight="bold")),
    dict(text="601N\u00a0 Reach 1", x=px(1383), y=py(61), xref="paper", yref="paper",
         showarrow=False, xanchor="center", yanchor="middle",
         font=dict(family=FONT, size=29, color="#000000", weight="bold")),
    dict(text="Monitoring Profiles Sheet 1 of 2", x=px(1383), y=py(101), xref="paper", yref="paper",
         showarrow=False, xanchor="center", yanchor="middle",
         font=dict(family=FONT, size=29, color="#000000", weight="bold")),
    dict(text="Elevation (ft)", x=px(73), y=py(803), xref="paper", yref="paper", textangle=-90,
         showarrow=False, xanchor="center", yanchor="middle",
         font=dict(family=FONT, size=27, color="#000000", weight="bold")),
    dict(text="Station (ft)", x=px(1377), y=py(1545), xref="paper", yref="paper",
         showarrow=False, xanchor="center", yanchor="middle",
         font=dict(family=FONT, size=27, color="#000000", weight="bold")),
]

fig.update_layout(
    width=W, height=H,
    margin=dict(l=PL, r=W - PR, t=PT, b=H - PB, pad=0),
    paper_bgcolor="#FFFFFF", plot_bgcolor="#FFFFFF",
    font=dict(family=FONT, size=20, color="#000000"),
    showlegend=True,
    legend=dict(x=px(472), y=py(703), xanchor="left", yanchor="top",
                bgcolor="rgba(0,0,0,0)", borderwidth=0, tracegroupgap=28.1,
                font=dict(family=FONT, size=20, color="#000000"), itemwidth=30),
    shapes=shapes,
    annotations=annotations,
)

fig.update_xaxes(range=[10000, 11500], tickvals=x_ticks, ticktext=[str(v) for v in x_ticks],
                 showgrid=False, zeroline=False, showline=True, mirror=True,
                 linecolor="#000000", linewidth=2.5, ticks="outside", ticklen=7,
                 tickcolor="#808080", tickwidth=1.5, ticklabelstandoff=5,
                 tickfont=dict(family=FONT, size=20, color="#000000"))
fig.update_yaxes(range=[595, 610], tickvals=y_ticks, ticktext=[str(v) for v in y_ticks],
                 showgrid=True, gridcolor="#808080", gridwidth=1.5, zeroline=False,
                 showline=True, mirror=True, linecolor="#000000", linewidth=2.5,
                 ticks="outside", ticklen=7, tickcolor="#808080", tickwidth=1.5,
                 ticklabelstandoff=7, tickfont=dict(family=FONT, size=20, color="#000000"))

fig.write_html("out.html", config={"displayModeBar": False},
               post_script="document.body.style.margin='0';document.body.style.overflow='hidden';")
